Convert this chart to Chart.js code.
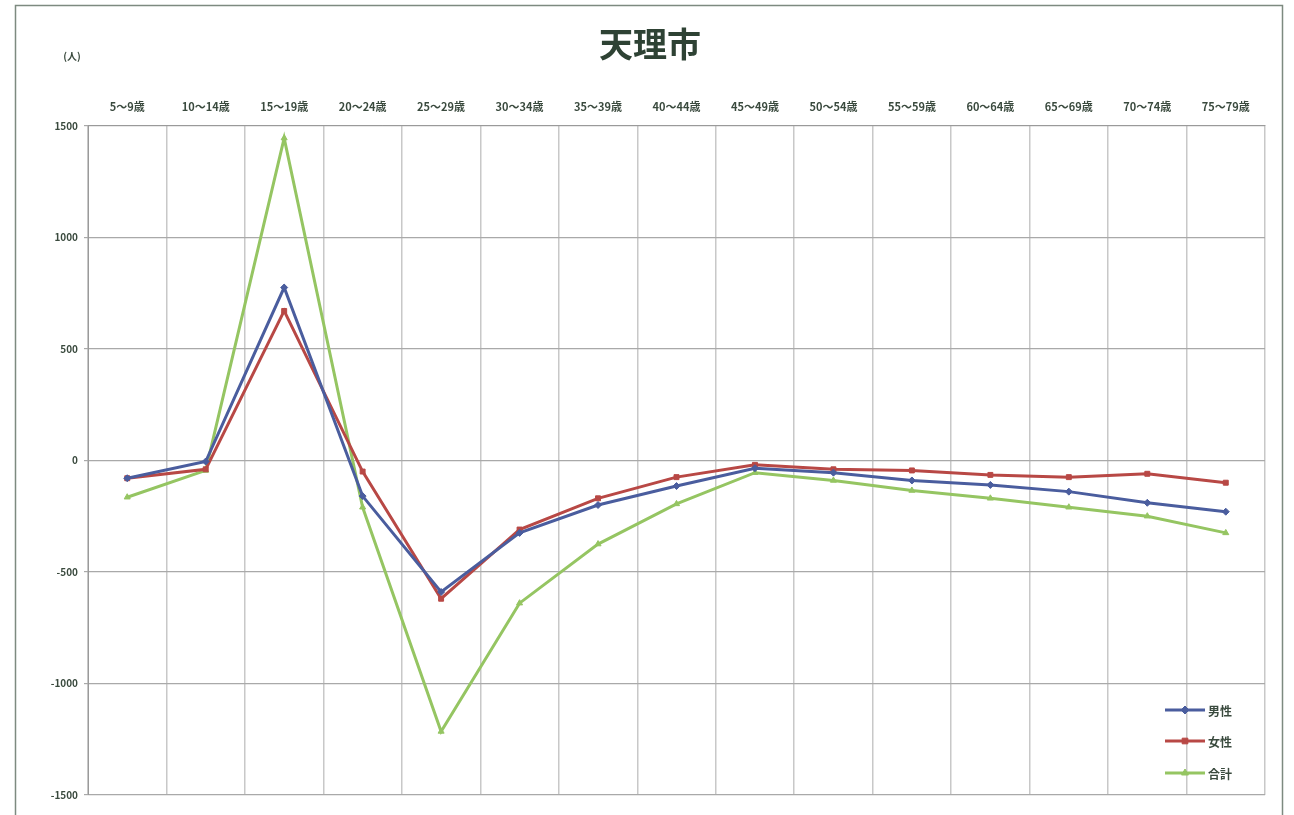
<!DOCTYPE html>
<html><head><meta charset="utf-8">
<script src="https://cdn.jsdelivr.net/npm/chart.js@4/dist/chart.umd.min.js"></script>
<style>html,body{margin:0;padding:0;background:#fff;}#wrap{width:1294px;height:815px;position:relative;}</style>
</head><body><div id="wrap"><canvas id="c" width="1294" height="815"></canvas></div>
<script>
const categories = ["5～9歳","10～14歳","15～19歳","20～24歳","25～29歳","30～34歳","35～39歳","40～44歳","45～49歳","50～54歳","55～59歳","60～64歳","65～69歳","70～74歳","75～79歳"];
const male   = [-80, -5, 775, -160, -590, -325, -200, -115, -35, -55, -90, -110, -140, -190, -230];
const female = [-80, -40, 670, -50, -620, -310, -170, -75, -20, -40, -45, -65, -75, -60, -100];
const total  = [-165, -45, 1445, -210, -1215, -640, -375, -195, -55, -90, -135, -170, -210, -250, -325];
const seriesNames = ["男性","女性","合計"];
const yTicks = [-1500,-1000,-500,0,500,1000,1500];
const titleText = "天理市";
const unitText = "(人)";

const colors = ["#4a5d9e","#b84845","#95c562"];
const markers = ["rectRot","rect","triangle"];
const FONT = "'Noto Sans CJK JP','Noto Sans',sans-serif";

const decor = {
  id:'decor',
  beforeDraw(chart){
    const ctx = chart.ctx;
    ctx.save();
    ctx.strokeStyle = '#7d8a80';
    ctx.lineWidth = 1.5;
    ctx.beginPath();
    ctx.moveTo(15.5, 815); ctx.lineTo(15.5, 5.5); ctx.lineTo(1282.5, 5.5); ctx.lineTo(1282.5, 815);
    ctx.stroke();
    ctx.restore();
  },
  afterDraw(chart){
    const ctx = chart.ctx;
    ctx.save();
    ctx.fillStyle = '#3a4a3e';
    ctx.font = 'bold 10px ' + FONT;
    ctx.textAlign = 'center'; ctx.textBaseline = 'middle';
    ctx.fillText(unitText, 72, 56);
    const x0 = 1165, x1 = 1205;
    const ys = [710, 741, 773];
    seriesNames.forEach((n,i)=>{
      ctx.strokeStyle = colors[i]; ctx.lineWidth = 3;
      ctx.beginPath(); ctx.moveTo(x0, ys[i]); ctx.lineTo(x1, ys[i]); ctx.stroke();
      ctx.fillStyle = colors[i]; ctx.strokeStyle = colors[i]; ctx.lineWidth = 1;
      Chart.helpers.drawPoint(ctx, {pointStyle: markers[i], radius: 4, rotation: 0, borderWidth: 1}, (x0+x1)/2, ys[i]);
      ctx.fillStyle = '#3a4a3e';
      ctx.font = 'bold 12px ' + FONT;
      ctx.textAlign = 'left';
      ctx.fillText(n, x1 + 3, ys[i] + 1);
    });
    ctx.restore();
  }
};

function ds(label, data, i){
  return {label, data, borderColor: colors[i], backgroundColor: colors[i], borderWidth: 3,
    pointStyle: markers[i], pointRadius: 3.5, pointBorderWidth: 1, pointBackgroundColor: colors[i],
    pointBorderColor: colors[i], tension: 0, fill: false};
}

new Chart(document.getElementById('c'), {
  type: 'line',
  data: { labels: categories, datasets: [ds(seriesNames[0], male, 0), ds(seriesNames[1], female, 1), ds(seriesNames[2], total, 2)] },
  options: {
    responsive: false, animation: false,
    layout: { padding: { left: 35, right: 29, top: 0, bottom: 20 } },
    plugins: {
      legend: { display: false },
      tooltip: { enabled: false },
      title: { display: true, text: titleText, color: '#2e4234',
        font: { family: FONT, size: 34, weight: 'bold' }, padding: { top: 24, bottom: 25 } }
    },
    scales: {
      x: { position: 'top', offset: true,
        grid: { offset: true, color: '#c8c8c8', lineWidth: 1.5, drawTicks: false },
        border: { color: '#9a9a9a' },
        ticks: { color: '#3a4a3e', font: { family: FONT, size: 11, weight: 'bold' }, padding: 12, maxRotation: 0, autoSkip: false },
        afterFit(s){ s.height = 36; }
      },
      y: { min: -1500, max: 1500,
        afterBuildTicks(s){ s.ticks = yTicks.map(v=>({value:v})); },
        grid: { color: '#a9a9a9', lineWidth: 1.2, tickLength: 4 },
        border: { color: '#9a9a9a' },
        ticks: { color: '#3a4a3e', font: { family: FONT, size: 10, weight: 'bold' }, padding: 6,
          callback: v => String(v) },
        afterFit(s){ s.width = 53; }
      }
    }
  },
  plugins: [decor]
});
</script></body></html>
